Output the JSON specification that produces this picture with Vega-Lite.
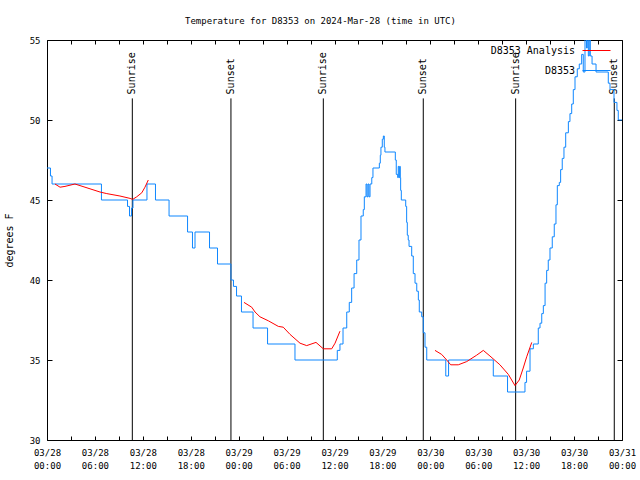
{
  "$schema": "https://vega.github.io/schema/vega-lite/v6.json",
  "width": 575,
  "height": 400,
  "autosize": {"type": "none"},
  "padding": {"left": 47, "top": 40, "right": 18, "bottom": 40},
  "background": "white",
  "title": {"text": "Temperature for D8353 on 2024-Mar-28 (time in UTC)", "font": "DejaVu Sans Mono", "fontSize": 9, "fontWeight": "normal", "anchor": "middle", "dx": -14, "offset": 10, "color": "black"},
  "config": {
    "view": {"stroke": "black", "strokeWidth": 1},
    "axis": {"domain": false, "grid": false, "labelFont": "DejaVu Sans Mono", "labelFontSize": 9, "labelColor": "black", "tickColor": "black", "titleFont": "DejaVu Sans Mono", "titleFontSize": 10, "titleFontWeight": "normal", "titleColor": "black"}
  },
  "datasets": {
    "obs": [
      {"t": "2024-03-28T00:00:00Z", "v": 47},
      {"t": "2024-03-28T00:26:00Z", "v": 46.5},
      {"t": "2024-03-28T00:38:00Z", "v": 46},
      {"t": "2024-03-28T06:49:00Z", "v": 45},
      {"t": "2024-03-28T10:05:00Z", "v": 44.6},
      {"t": "2024-03-28T10:20:00Z", "v": 44},
      {"t": "2024-03-28T10:35:00Z", "v": 44.5},
      {"t": "2024-03-28T10:46:00Z", "v": 45},
      {"t": "2024-03-28T12:31:00Z", "v": 46},
      {"t": "2024-03-28T13:35:00Z", "v": 45},
      {"t": "2024-03-28T15:17:00Z", "v": 44},
      {"t": "2024-03-28T17:36:00Z", "v": 43},
      {"t": "2024-03-28T18:13:00Z", "v": 42},
      {"t": "2024-03-28T18:32:00Z", "v": 43},
      {"t": "2024-03-28T20:21:00Z", "v": 42},
      {"t": "2024-03-28T21:21:00Z", "v": 41},
      {"t": "2024-03-28T23:02:00Z", "v": 40},
      {"t": "2024-03-28T23:21:00Z", "v": 39.6},
      {"t": "2024-03-28T23:44:00Z", "v": 39},
      {"t": "2024-03-29T00:21:00Z", "v": 38},
      {"t": "2024-03-29T01:48:00Z", "v": 37},
      {"t": "2024-03-29T03:37:00Z", "v": 36},
      {"t": "2024-03-29T07:03:00Z", "v": 35},
      {"t": "2024-03-29T12:21:00Z", "v": 35.6},
      {"t": "2024-03-29T12:41:00Z", "v": 36},
      {"t": "2024-03-29T13:04:00Z", "v": 37},
      {"t": "2024-03-29T13:32:00Z", "v": 38},
      {"t": "2024-03-29T13:51:00Z", "v": 38.6},
      {"t": "2024-03-29T14:09:00Z", "v": 39.5},
      {"t": "2024-03-29T14:27:00Z", "v": 40.4},
      {"t": "2024-03-29T14:47:00Z", "v": 41.25},
      {"t": "2024-03-29T15:04:00Z", "v": 42.5},
      {"t": "2024-03-29T15:19:00Z", "v": 44},
      {"t": "2024-03-29T15:36:00Z", "v": 44.4},
      {"t": "2024-03-29T15:44:00Z", "v": 45.2},
      {"t": "2024-03-29T15:57:00Z", "v": 46},
      {"t": "2024-03-29T16:04:00Z", "v": 45.2},
      {"t": "2024-03-29T16:12:00Z", "v": 46},
      {"t": "2024-03-29T16:19:00Z", "v": 45.2},
      {"t": "2024-03-29T16:27:00Z", "v": 46},
      {"t": "2024-03-29T16:40:00Z", "v": 46.4},
      {"t": "2024-03-29T16:49:00Z", "v": 47},
      {"t": "2024-03-29T17:37:00Z", "v": 47.3},
      {"t": "2024-03-29T17:44:00Z", "v": 47.8},
      {"t": "2024-03-29T17:49:00Z", "v": 48.3},
      {"t": "2024-03-29T17:59:00Z", "v": 48.8},
      {"t": "2024-03-29T18:07:00Z", "v": 49},
      {"t": "2024-03-29T18:14:00Z", "v": 48.3},
      {"t": "2024-03-29T18:19:00Z", "v": 48},
      {"t": "2024-03-29T19:37:00Z", "v": 47.5},
      {"t": "2024-03-29T19:44:00Z", "v": 46.6},
      {"t": "2024-03-29T19:55:00Z", "v": 46.4},
      {"t": "2024-03-29T19:59:00Z", "v": 47.1},
      {"t": "2024-03-29T20:05:00Z", "v": 46.4},
      {"t": "2024-03-29T20:10:00Z", "v": 47.1},
      {"t": "2024-03-29T20:14:00Z", "v": 46.4},
      {"t": "2024-03-29T20:17:00Z", "v": 45.6},
      {"t": "2024-03-29T20:22:00Z", "v": 45},
      {"t": "2024-03-29T20:55:00Z", "v": 44.6},
      {"t": "2024-03-29T21:02:00Z", "v": 43.6},
      {"t": "2024-03-29T21:07:00Z", "v": 42.8},
      {"t": "2024-03-29T21:14:00Z", "v": 42.5},
      {"t": "2024-03-29T21:20:00Z", "v": 42.1},
      {"t": "2024-03-29T21:40:00Z", "v": 41.5},
      {"t": "2024-03-29T21:52:00Z", "v": 40.4},
      {"t": "2024-03-29T22:05:00Z", "v": 39.8},
      {"t": "2024-03-29T22:18:00Z", "v": 39.3},
      {"t": "2024-03-29T22:30:00Z", "v": 38.75},
      {"t": "2024-03-29T22:37:00Z", "v": 38},
      {"t": "2024-03-29T22:55:00Z", "v": 37.7},
      {"t": "2024-03-29T23:07:00Z", "v": 36.7},
      {"t": "2024-03-29T23:20:00Z", "v": 35.8},
      {"t": "2024-03-29T23:33:00Z", "v": 35},
      {"t": "2024-03-30T01:56:00Z", "v": 34},
      {"t": "2024-03-30T02:17:00Z", "v": 35},
      {"t": "2024-03-30T07:53:00Z", "v": 34},
      {"t": "2024-03-30T09:40:00Z", "v": 33},
      {"t": "2024-03-30T11:51:00Z", "v": 33.6},
      {"t": "2024-03-30T12:03:00Z", "v": 34.3},
      {"t": "2024-03-30T12:29:00Z", "v": 35.7},
      {"t": "2024-03-30T12:54:00Z", "v": 36},
      {"t": "2024-03-30T13:31:00Z", "v": 37},
      {"t": "2024-03-30T13:44:00Z", "v": 37.3},
      {"t": "2024-03-30T13:57:00Z", "v": 37.9},
      {"t": "2024-03-30T14:09:00Z", "v": 38.4},
      {"t": "2024-03-30T14:22:00Z", "v": 39.8},
      {"t": "2024-03-30T14:34:00Z", "v": 40.6},
      {"t": "2024-03-30T14:46:00Z", "v": 41.25},
      {"t": "2024-03-30T14:59:00Z", "v": 42},
      {"t": "2024-03-30T15:16:00Z", "v": 42.7},
      {"t": "2024-03-30T15:31:00Z", "v": 43.5},
      {"t": "2024-03-30T15:44:00Z", "v": 44.7},
      {"t": "2024-03-30T15:54:00Z", "v": 45.9},
      {"t": "2024-03-30T16:09:00Z", "v": 46.1},
      {"t": "2024-03-30T16:19:00Z", "v": 46.9},
      {"t": "2024-03-30T16:31:00Z", "v": 47.6},
      {"t": "2024-03-30T16:44:00Z", "v": 48.3},
      {"t": "2024-03-30T16:57:00Z", "v": 49.2},
      {"t": "2024-03-30T17:17:00Z", "v": 49.9},
      {"t": "2024-03-30T17:29:00Z", "v": 50.4},
      {"t": "2024-03-30T17:42:00Z", "v": 51},
      {"t": "2024-03-30T17:54:00Z", "v": 51.9},
      {"t": "2024-03-30T18:07:00Z", "v": 52.7},
      {"t": "2024-03-30T18:24:00Z", "v": 53.2},
      {"t": "2024-03-30T18:39:00Z", "v": 53.5},
      {"t": "2024-03-30T18:57:00Z", "v": 54.1},
      {"t": "2024-03-30T19:09:00Z", "v": 53},
      {"t": "2024-03-30T19:22:00Z", "v": 55.5},
      {"t": "2024-03-30T19:33:00Z", "v": 54.5},
      {"t": "2024-03-30T19:39:00Z", "v": 55.5},
      {"t": "2024-03-30T19:47:00Z", "v": 54},
      {"t": "2024-03-30T19:54:00Z", "v": 55.5},
      {"t": "2024-03-30T20:02:00Z", "v": 54},
      {"t": "2024-03-30T20:15:00Z", "v": 53.5},
      {"t": "2024-03-30T20:45:00Z", "v": 53},
      {"t": "2024-03-30T22:17:00Z", "v": 52.3},
      {"t": "2024-03-30T22:30:00Z", "v": 51.9},
      {"t": "2024-03-30T23:00:00Z", "v": 51.1},
      {"t": "2024-03-30T23:22:00Z", "v": 50.6},
      {"t": "2024-03-30T23:32:00Z", "v": 50},
      {"t": "2024-03-31T00:00:00Z", "v": 50}
    ],
    "anal": [
      {"t": "2024-03-28T01:00:00Z", "v": 46.0, "seg": 1},
      {"t": "2024-03-28T01:38:00Z", "v": 45.8, "seg": 1},
      {"t": "2024-03-28T02:15:00Z", "v": 45.85, "seg": 1},
      {"t": "2024-03-28T03:30:00Z", "v": 46.0, "seg": 1},
      {"t": "2024-03-28T04:08:00Z", "v": 45.9, "seg": 1},
      {"t": "2024-03-28T05:23:00Z", "v": 45.7, "seg": 1},
      {"t": "2024-03-28T06:38:00Z", "v": 45.5, "seg": 1},
      {"t": "2024-03-28T07:29:00Z", "v": 45.4, "seg": 1},
      {"t": "2024-03-28T09:08:00Z", "v": 45.25, "seg": 1},
      {"t": "2024-03-28T10:24:00Z", "v": 45.1, "seg": 1},
      {"t": "2024-03-28T10:44:00Z", "v": 45.04, "seg": 1},
      {"t": "2024-03-28T11:14:00Z", "v": 45.2, "seg": 1},
      {"t": "2024-03-28T11:52:00Z", "v": 45.45, "seg": 1},
      {"t": "2024-03-28T12:16:00Z", "v": 45.8, "seg": 1},
      {"t": "2024-03-28T12:41:00Z", "v": 46.25, "seg": 1},
      {"t": "2024-03-29T00:40:00Z", "v": 38.6, "seg": 2},
      {"t": "2024-03-29T01:38:00Z", "v": 38.3, "seg": 2},
      {"t": "2024-03-29T02:03:00Z", "v": 38.0, "seg": 2},
      {"t": "2024-03-29T02:40:00Z", "v": 37.7, "seg": 2},
      {"t": "2024-03-29T03:43:00Z", "v": 37.45, "seg": 2},
      {"t": "2024-03-29T04:58:00Z", "v": 37.1, "seg": 2},
      {"t": "2024-03-29T05:35:00Z", "v": 37.05, "seg": 2},
      {"t": "2024-03-29T06:26:00Z", "v": 36.6, "seg": 2},
      {"t": "2024-03-29T07:41:00Z", "v": 36.05, "seg": 2},
      {"t": "2024-03-29T08:31:00Z", "v": 35.9, "seg": 2},
      {"t": "2024-03-29T09:41:00Z", "v": 36.1, "seg": 2},
      {"t": "2024-03-29T10:36:00Z", "v": 35.7, "seg": 2},
      {"t": "2024-03-29T11:39:00Z", "v": 35.7, "seg": 2},
      {"t": "2024-03-29T12:04:00Z", "v": 36.05, "seg": 2},
      {"t": "2024-03-29T12:41:00Z", "v": 36.8, "seg": 2},
      {"t": "2024-03-30T00:35:00Z", "v": 35.6, "seg": 3},
      {"t": "2024-03-30T01:25:00Z", "v": 35.35, "seg": 3},
      {"t": "2024-03-30T02:03:00Z", "v": 35.0, "seg": 3},
      {"t": "2024-03-30T02:33:00Z", "v": 34.7, "seg": 3},
      {"t": "2024-03-30T03:30:00Z", "v": 34.7, "seg": 3},
      {"t": "2024-03-30T04:33:00Z", "v": 34.9, "seg": 3},
      {"t": "2024-03-30T05:48:00Z", "v": 35.3, "seg": 3},
      {"t": "2024-03-30T06:38:00Z", "v": 35.6, "seg": 3},
      {"t": "2024-03-30T07:28:00Z", "v": 35.25, "seg": 3},
      {"t": "2024-03-30T08:43:00Z", "v": 34.7, "seg": 3},
      {"t": "2024-03-30T09:46:00Z", "v": 34.1, "seg": 3},
      {"t": "2024-03-30T10:36:00Z", "v": 33.4, "seg": 3},
      {"t": "2024-03-30T11:08:00Z", "v": 33.75, "seg": 3},
      {"t": "2024-03-30T11:38:00Z", "v": 34.5, "seg": 3},
      {"t": "2024-03-30T12:04:00Z", "v": 35.2, "seg": 3},
      {"t": "2024-03-30T12:42:00Z", "v": 36.1, "seg": 3}
    ],
    "sun": [
      {"t": "2024-03-28T10:41:00Z", "ev": "Sunrise"},
      {"t": "2024-03-28T23:02:00Z", "ev": "Sunset"},
      {"t": "2024-03-29T10:36:00Z", "ev": "Sunrise"},
      {"t": "2024-03-29T23:07:00Z", "ev": "Sunset"},
      {"t": "2024-03-30T10:41:00Z", "ev": "Sunrise"},
      {"t": "2024-03-30T23:02:00Z", "ev": "Sunset"}
    ]
  },
  "layer": [
    {
      "data": {"name": "sun"},
      "mark": {"type": "rule", "color": "black", "strokeWidth": 1},
      "encoding": {
        "x": {"field": "t", "type": "temporal", "scale": {"type": "utc"}, "axis": null},
        "y": {"datum": 51.35, "type": "quantitative", "axis": null},
        "y2": {"datum": 30}
      }
    },
    {
      "data": {"name": "sun"},
      "mark": {"type": "text", "angle": 270, "align": "left", "baseline": "middle", "dx": 4, "font": "DejaVu Sans Mono", "fontSize": 10, "color": "black"},
      "encoding": {
        "x": {"field": "t", "type": "temporal", "scale": {"type": "utc"}, "axis": null},
        "y": {"datum": 51.35, "type": "quantitative", "axis": null},
        "text": {"field": "ev"}
      }
    },
    {
      "data": {"name": "obs"},
      "mark": {"type": "line", "interpolate": "step-after", "strokeWidth": 1, "clip": true},
      "encoding": {
        "x": {"field": "t", "type": "temporal",
          "scale": {"type": "utc", "domain": [1711584000000, 1711843200000], "nice": false},
          "axis": {"orient": "bottom", "title": null, "values": [1711584000000, 1711594800000, 1711605600000, 1711616400000, 1711627200000, 1711638000000, 1711648800000, 1711659600000, 1711670400000, 1711681200000, 1711692000000, 1711702800000, 1711713600000, 1711724400000, 1711735200000, 1711746000000, 1711756800000, 1711767600000, 1711778400000, 1711789200000, 1711800000000, 1711810800000, 1711821600000, 1711832400000, 1711843200000], "labelExpr": "utchours(datum.value) % 6 == 0 ? [utcFormat(datum.value, '%m/%d'), utcFormat(datum.value, '%H:%M')] : ''", "tickSize": -4, "labelPadding": 12, "labelLineHeight": 13, "labelFlush": false, "labelOverlap": false, "labelBaseline": "top"}},
        "y": {"field": "v", "type": "quantitative",
          "scale": {"domain": [30, 55], "nice": false, "zero": false},
          "axis": {"orient": "left", "title": "degrees F", "values": [30, 35, 40, 45, 50, 55], "tickSize": -5, "labelPadding": 12, "titlePadding": 15}},
        "color": {"datum": "D8353", "type": "nominal",
          "scale": {"domain": ["D8353 Analysis", "D8353"], "range": ["#ff0000", "#0f87ff"]},
          "legend": {"orient": "none", "legendX": 535, "legendY": -4, "title": null, "symbolType": "stroke", "symbolSize": 784, "symbolStrokeWidth": 1, "labelAlign": "right", "labelOffset": -36, "labelFont": "DejaVu Sans Mono", "labelFontSize": 10, "labelColor": "black", "rowPadding": -22, "padding": 0}}
      }
    },
    {
      "data": {"name": "anal"},
      "mark": {"type": "line", "strokeWidth": 1, "clip": true},
      "encoding": {
        "x": {"field": "t", "type": "temporal", "scale": {"type": "utc"},
          "axis": {"orient": "top", "title": null, "labels": false, "values": [1711584000000, 1711594800000, 1711605600000, 1711616400000, 1711627200000, 1711638000000, 1711648800000, 1711659600000, 1711670400000, 1711681200000, 1711692000000, 1711702800000, 1711713600000, 1711724400000, 1711735200000, 1711746000000, 1711756800000, 1711767600000, 1711778400000, 1711789200000, 1711800000000, 1711810800000, 1711821600000, 1711832400000, 1711843200000], "tickSize": -4}},
        "y": {"field": "v", "type": "quantitative",
          "axis": {"orient": "right", "title": null, "labels": false, "values": [30, 35, 40, 45, 50, 55], "tickSize": -5}},
        "color": {"datum": "D8353 Analysis", "type": "nominal"},
        "detail": {"field": "seg"}
      }
    }
  ],
  "resolve": {"axis": {"x": "independent", "y": "independent"}}
}
